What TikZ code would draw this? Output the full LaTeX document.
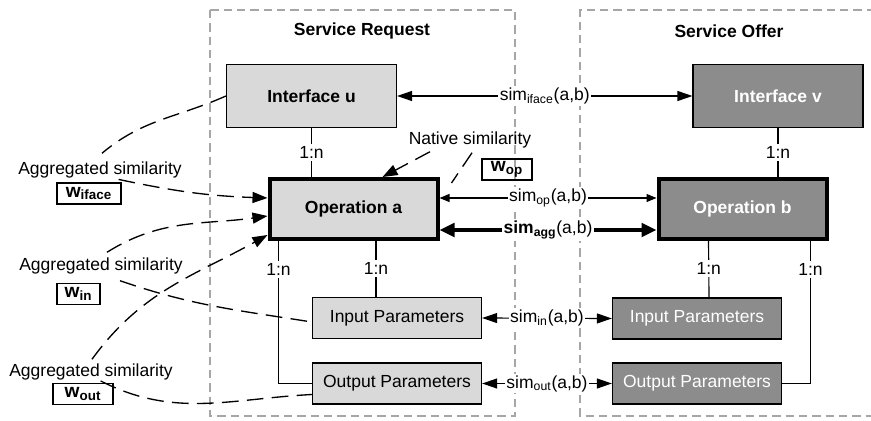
\documentclass[tikz,border=0pt]{standalone}
\usepackage{fontspec}
\setmainfont{Liberation Sans}
\usetikzlibrary{arrows.meta,calc}
\definecolor{reqgray}{HTML}{D9D9D9}
\definecolor{offgray}{HTML}{8C8C8C}
\definecolor{framegray}{HTML}{A6A6A6}

\begin{document}
\begin{tikzpicture}[x=0.6pt,y=-0.6pt,
  font=\fontsize{10.5}{12.6}\selectfont,
  line width=0.7pt,
  frame/.style={draw=framegray,line width=0.8pt,dash pattern=on 5pt off 3pt},
  reqbox/.style={draw,fill=reqgray,inner sep=0pt},
  offbox/.style={draw,fill=offgray,text=white,inner sep=0pt},
  ifacebox/.style={minimum width=102pt,minimum height=37.8pt,font=\fontsize{10.5}{12.6}\selectfont\bfseries},
  opbox/.style={line width=2.4pt,minimum width=100.8pt,minimum height=36pt,font=\fontsize{10.5}{12.6}\selectfont\bfseries},
  parambox/.style={minimum width=101.5pt,minimum height=24.6pt},
  wbox/.style={draw,inner sep=0pt,minimum height=12.6pt,font=\fontsize{11.5}{13}\selectfont\bfseries},
  lbl/.style={inner sep=0pt},
  card/.style={fill=white,inner sep=1.5pt},
  simlbl/.style={fill=white,inner xsep=0.8pt,inner ysep=1pt},
  weight/.style={dash pattern=on 10pt off 5pt,line width=0.8pt},
  tip/.style={-{Triangle[length=9pt,width=6.6pt]}},
  both/.style={{Triangle[length=9pt,width=6pt]}-{Triangle[length=9pt,width=6pt]}},
  bothsmall/.style={{Triangle[length=6pt,width=4.8pt]}-{Triangle[length=6pt,width=4.8pt]}},
  boththick/.style={line width=2.4pt,{Triangle[length=9pt,width=8pt]}-{Triangle[length=9pt,width=8pt]}}]
\useasboundingbox (0,0) rectangle (871,420);

\draw[frame] (210,10) rectangle (515,416);
\draw[frame] (875,10) -- (580,10) -- (580,416) -- (875,416);
\node[lbl,font=\fontsize{10.5}{12.6}\selectfont\bfseries] (reqtitle) at (362,31) {Service Request};
\node[lbl,font=\fontsize{10.5}{12.6}\selectfont\bfseries] (offtitle) at (729,31) {Service Offer};

\node[reqbox,ifacebox] (ifu) at (311.5,96) {Interface u};
\node[offbox,ifacebox] (ifv) at (778,96) {Interface v};
\node[reqbox,opbox] (opa) at (353.5,209) {Operation a};
\node[offbox,opbox] (opb) at (742.5,208.5) {Operation b};
\node[reqbox,parambox] (ina) at (397,318) {Input Parameters};
\node[reqbox,parambox] (outa) at (397,383.5) {Output Parameters};
\node[offbox,parambox] (inb) at (697,318.5) {Input Parameters};
\node[offbox,parambox] (outb) at (697,383.5) {Output Parameters};

\draw (ifu.south) -- node[card]{1:n} (ifu.south |- opa.north);
\draw (ifv.south) -- node[card]{1:n} (ifv.south |- opb.north);
\draw ($(opa.south west)+(11,0)$) |- node[card,pos=0.1]{1:n} (outa.west);
\draw ($(opa.south)+(22.5,0)$) -- node[card]{1:n} (376,0 |- ina.north);
\draw ($(opb.south west)+(52,0)$) -- node[card]{1:n} (709,0 |- inb.north);
\draw ($(opb.south east)+(-18,0)$) |- node[card,pos=0.1]{1:n} (outb.east);

\draw[both] (ifu.east) -- node[simlbl]{sim\textsubscript{iface}(a,b)} (ifv.west);
\draw[bothsmall] ($(opa.east)+(0,-11)$) -- node[simlbl]{sim\textsubscript{op}(a,b)} ($(opb.west)+(0,-10.5)$);
\draw[boththick] ($(opa.east)+(0,21)$) -- node[simlbl]{\textbf{sim\textsubscript{agg}}(a,b)} ($(opb.west)+(0,21.5)$);
\draw[both] (ina.east) -- node[simlbl]{sim\textsubscript{in}(a,b)} (inb.west);
\draw[both] (outa.east) -- node[simlbl]{sim\textsubscript{out}(a,b)} (outb.west);

\node[lbl] (agg1) at (100,170) {Aggregated similarity};
\node[lbl] (agg2) at (101,266) {Aggregated similarity};
\node[lbl] (agg3) at (91,372) {Aggregated similarity};
\node[lbl] (native) at (470,140) {Native similarity};
\node[wbox,minimum width=38.4pt] (wiface) at (89,193.5) {w\textsubscript{iface}};
\node[wbox,minimum width=25.8pt] (win) at (78.5,294) {w\textsubscript{in}};
\node[wbox,minimum width=36pt] (wout) at (83,394) {w\textsubscript{out}};
\node[wbox,minimum width=30pt] (wop) at (507,169.5) {w\textsubscript{op}};

\draw[weight] (ifu.west) to[out=204,in=40] ($(agg1.north)+(2,-8)$);
\draw[weight,tip] ($(wiface.north east)+(-3,-3)$) to[out=-12,in=178] ($(opa.west)+(0,-11)$);
\draw[weight,tip] ($(agg2.north)+(6,-5)$) to[out=32,in=188] ($(opa.west)+(0,7)$);
\draw[weight,tip] ($(agg3.north)+(1,-4)$) to[out=54,in=209] ($(opa.west)+(0,26)$);
\draw[weight] ($(agg2.south)+(19,6)$) to[out=-19,in=171] ($(ina.west)+(0,4)$);
\draw[weight] ($(wout.north east)+(-13,-2)$) to[out=-27,in=183] ($(outa.west)+(0,11)$);
\draw[weight,tip] ($(native.south)+(-40,3)$) -- ($(opa.north)+(29,0)$);
\draw[weight] ($(native.south)+(2,4)$) -- ($(opa.north east)+(12,6)$);
\end{tikzpicture}
\end{document}
